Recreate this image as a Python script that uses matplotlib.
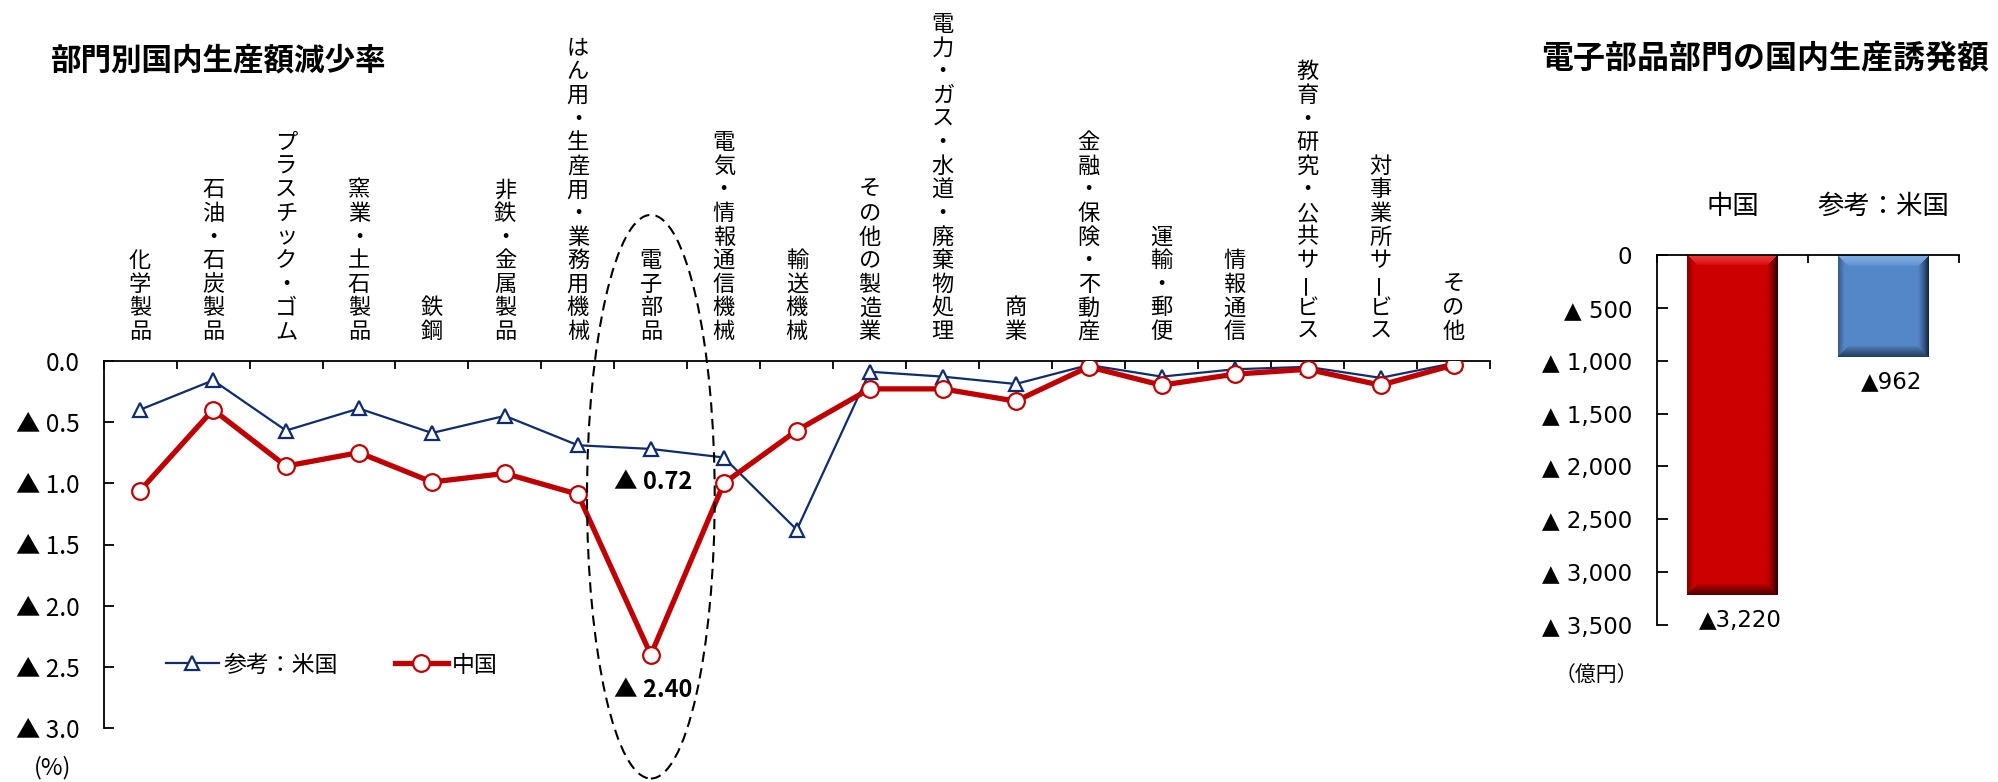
import numpy as np
import matplotlib
matplotlib.use("Agg")
import matplotlib.pyplot as plt
from matplotlib.patches import Ellipse

plt.rcParams['font.family'] = ['Noto Sans CJK JP', 'DejaVu Sans']

# ---------------- data ----------------
sectors = ["化学製品", "石油・石炭製品", "プラスチック・ゴム", "窯業・土石製品", "鉄鋼",
           "非鉄・金属製品", "はん用・生産用・業務用機械", "電子部品", "電気・情報通信機械",
           "輸送機械", "その他の製造業", "電力・ガス・水道・廃棄物処理", "商業",
           "金融・保険・不動産", "運輸・郵便", "情報通信", "教育・研究・公共サービス",
           "対事業所サービス", "その他"]
china_rate = [-1.06, -0.40, -0.86, -0.75, -0.99, -0.92, -1.09, -2.40, -1.00, -0.57,
              -0.23, -0.23, -0.33, -0.05, -0.20, -0.11, -0.07, -0.20, -0.035]
usa_rate = [-0.40, -0.16, -0.57, -0.39, -0.59, -0.45, -0.69, -0.72, -0.79, -1.38,
            -0.09, -0.13, -0.19, -0.035, -0.13, -0.07, -0.05, -0.14, -0.02]
rate_ticks = [0.0, -0.5, -1.0, -1.5, -2.0, -2.5, -3.0]
china_label = "中国"
usa_label = "参考：米国"
highlight_idx = 7

bar_countries = ["中国", "参考：米国"]
bar_values = [-3220, -962]
bar_ticks = [0, -500, -1000, -1500, -2000, -2500, -3000, -3500]

# ---------------- styles ----------------
RED = "#C00000"
NAVY = "#0F2D6E"
W, H = 1998, 782
fig = plt.figure(figsize=(W / 100, H / 100), dpi=100)


def fig_rect(x0, y0, x1, y1):
    return [x0 / W, 1 - y1 / H, (x1 - x0) / W, (y1 - y0) / H]


# ================= left chart =================
ax = fig.add_axes(fig_rect(103.6, 360.7, 1490, 728.3))
n = len(sectors)
x = np.arange(n)
ax.plot(x, usa_rate, color=NAVY, lw=1.6, marker='^', ms=10, mfc='white',
        mec=NAVY, mew=1.6, zorder=3, label=usa_label)
ax.plot(x, china_rate, color=RED, lw=3.8, marker='o', ms=12, mfc='white',
        mec=RED, mew=1.6, zorder=4, label=china_label)
ax.set_xlim(-0.5, n - 0.5)
ax.set_ylim(-3.0, 0.0)
for s in ['right', 'bottom']:
    ax.spines[s].set_visible(False)
for s in ['left', 'top']:
    ax.spines[s].set_linewidth(1.3)
ax.xaxis.tick_top()
ax.set_xticks(np.arange(-0.5, n, 1.0))
ax.set_xticklabels([])
ax.set_yticks(rate_ticks)
ax.set_yticklabels(["0.0" if v == 0 else f"▲ {abs(v):.1f}" for v in rate_ticks],
                   fontsize=17.5)
ax.tick_params(axis='x', direction='in', length=6, width=1.3, top=True, bottom=False)
ax.tick_params(axis='y', direction='in', length=7, width=1.3, pad=17)

# vertical category labels (stacked characters)
stride_pt = 17.0
base_pt = 21.0
for i, lab in enumerate(sectors):
    for k, ch in enumerate(reversed(lab)):
        ax.annotate(ch, xy=(i, 1), xycoords=('data', 'axes fraction'),
                    xytext=(0, base_pt + k * stride_pt), textcoords='offset points',
                    ha='center', va='center', fontsize=16,
                    rotation=90 if ch == 'ー' else 0, annotation_clip=False)

# highlight ellipse
ell = Ellipse((highlight_idx, -1.11), width=1.75, height=4.6, transform=ax.transData,
              fill=False, edgecolor='black', lw=1.5, ls=(0, (5, 3)), clip_on=False,
              zorder=5)
ax.add_patch(ell)

# value annotations
ax.annotate(f"▲ {abs(usa_rate[highlight_idx]):.2f}", xy=(highlight_idx, usa_rate[highlight_idx]),
            xytext=(2, -24), textcoords='offset points', ha='center', va='center',
            fontsize=17, fontweight='bold')
ax.annotate(f"▲ {abs(china_rate[highlight_idx]):.2f}", xy=(highlight_idx, china_rate[highlight_idx]),
            xytext=(2, -25), textcoords='offset points', ha='center', va='center',
            fontsize=17, fontweight='bold')

leg = fig.legend(handles=ax.get_lines(), loc='center left',
                 bbox_to_anchor=(166 / W, 1 - 665 / H), ncol=2, frameon=False,
                 fontsize=16.5, handlelength=2.3, handletextpad=0.2, columnspacing=2.5,
                 borderpad=0, borderaxespad=0)

fig.text(53 / W, 1 - 768 / H, "(%)", ha='center', va='center', fontsize=17)
fig.text(51 / W, 1 - 60 / H, "部門別国内生産額減少率", ha='left', va='center',
         fontsize=22, fontweight='bold')

# ================= right chart =================
ax2 = fig.add_axes(fig_rect(1657, 255, 1959, 625))
bx = np.arange(len(bar_countries))
bar_colors = ["#CC0000", "#5587C8"]
light_cols = ["#F03A3A", "#82AEE6"]
dark_cols = ["#2A0000", "#142840"]
bars = ax2.bar(bx, bar_values, width=0.6, color=bar_colors, zorder=2)
ax2.set_xlim(-0.5, len(bar_countries) - 0.5)
ax2.set_ylim(bar_ticks[-1], 0)
for s in ['right', 'bottom']:
    ax2.spines[s].set_visible(False)
for s in ['left', 'top']:
    ax2.spines[s].set_linewidth(1.3)
ax2.xaxis.tick_top()
ax2.set_xticks(np.arange(-0.5, len(bar_countries), 1.0))
ax2.set_xticklabels([])
ax2.set_yticks(bar_ticks)
ax2.set_yticklabels(["0" if v == 0 else f"▲ {abs(v):,}" for v in bar_ticks],
                    fontsize=16.5, family='DejaVu Sans')
ax2.tick_params(axis='x', direction='in', length=6, width=1.3, top=True, bottom=False)
ax2.tick_params(axis='y', direction='in', length=8, width=1.3, pad=18)


def hex2rgb(h):
    h = h.lstrip('#')
    return np.array([int(h[i:i + 2], 16) / 255 for i in (0, 2, 4)])


# bevel shading clipped to each bar
for rect, base, lc, dc in zip(bars, bar_colors, light_cols, dark_cols):
    x0, y0 = rect.get_x(), rect.get_y()
    x1, y1 = x0 + rect.get_width(), y0 + rect.get_height()
    p0 = ax2.transData.transform((x0, y0))
    p1 = ax2.transData.transform((x1, y1))
    wpx = max(int(round(abs(p1[0] - p0[0]))), 2)
    hpx = max(int(round(abs(p1[1] - p0[1]))), 2)
    yy, xx = np.mgrid[0:hpx, 0:wpx].astype(float)
    bw = 11.0
    b, l, d = hex2rgb(base), hex2rgb(lc), hex2rgb(dc)
    img = np.ones((hpx, wpx, 3)) * b
    t_top = np.clip(1 - yy / bw, 0, 1) ** 0.6
    t_right = np.clip(1 - (wpx - 1 - xx) / bw, 0, 1) ** 1.3
    t_bot = np.clip(1 - (hpx - 1 - yy) / bw, 0, 1) ** 0.8 * 0.75
    t_left = np.clip(1 - xx / 6.0, 0, 1) * 0.45
    dist = np.stack([yy, wpx - 1 - xx, hpx - 1 - yy, xx])
    near = np.argmin(dist, axis=0)
    img = np.where((near == 0)[..., None], b + (l - b) * t_top[..., None], img)
    img = np.where((near == 1)[..., None], b + (d - b) * t_right[..., None], img)
    img = np.where((near == 2)[..., None], b + (d - b) * t_bot[..., None], img)
    img = np.where((near == 3)[..., None], b + (d - b) * t_left[..., None], img)
    im = ax2.imshow(img, extent=(x0, x1, y1, 0), origin='upper', aspect='auto',
                    interpolation='bilinear', zorder=2.5)
    im.set_clip_path(rect)
ax2.set_xlim(-0.5, len(bar_countries) - 0.5)
ax2.set_ylim(bar_ticks[-1], 0)

for i, (name, v) in enumerate(zip(bar_countries, bar_values)):
    ax2.annotate(name, xy=(i, 0), xytext=(0, 35), textcoords='offset points',
                 ha='center', va='center', fontsize=19, annotation_clip=False)
    ax2.annotate(f"▲{abs(v):,}", xy=(i, v), xytext=(6, -18), textcoords='offset points',
                 ha='center', va='center', fontsize=16.5, family='DejaVu Sans',
                 annotation_clip=False)

fig.text(1596 / W, 1 - 675 / H, "（億円）", ha='center', va='center', fontsize=15)
fig.text(1765 / W, 1 - 58 / H, "電子部品部門の国内生産誘発額", ha='center', va='center',
         fontsize=23, fontweight='bold')

fig.savefig("out.png", dpi=100)
